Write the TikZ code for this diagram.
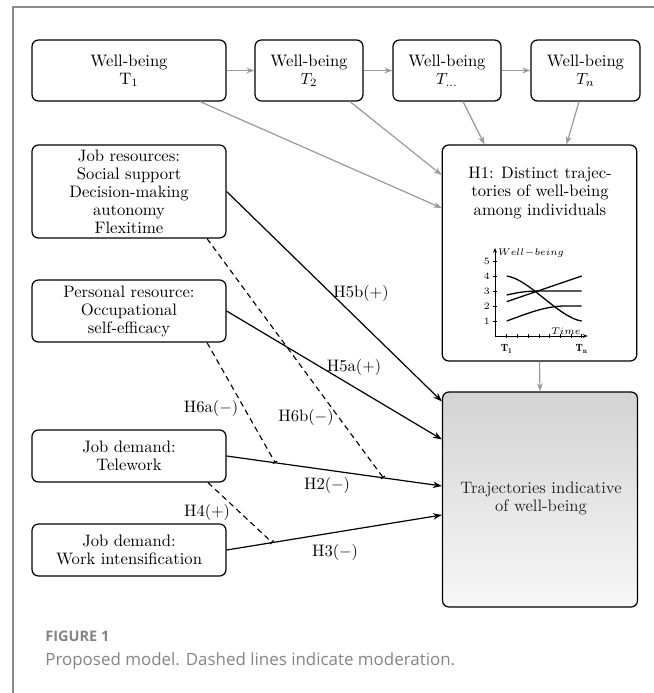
\documentclass[tikz,border=0pt]{standalone}
\usepackage{fontspec}
\newfontfamily\capfont{Open Sans}
\usetikzlibrary{arrows.meta,calc}
\definecolor{framegray}{HTML}{8C8C8C}
\definecolor{arrgray}{HTML}{9A9A9A}
\definecolor{capgray}{HTML}{858585}
\begin{document}
\begin{tikzpicture}[x=0.62pt,y=-0.62pt,
  box/.style={draw=black, line width=0.75pt, rounded corners=4pt, align=center, inner sep=0pt, font=\fontsize{10.3}{11.2}\selectfont},
  garr/.style={draw=arrgray, line width=0.75pt, -{Stealth[length=5pt,width=3.6pt]}},
  barr/.style={draw=black, line width=0.75pt, -{Stealth[length=5.5pt,width=4pt]}},
  modline/.style={draw=black, line width=0.7pt, dash pattern=on 3.5pt off 2.5pt, -{Bar[width=3pt]}},
  lbl/.style={font=\fontsize{10.3}{12}\selectfont, inner sep=1pt},
  chartlbl/.style={font=\fontsize{6.5}{7.5}\selectfont, inner sep=0.5pt}]
\useasboundingbox (0,0) rectangle (654,693);
% frame
\draw[framegray, line width=0.8pt] (13,693) -- (13,7) -- (654,7);
% top row
\node[box, minimum width=120.28pt, minimum height=37.82pt] (T1) at (129,70.5) {Well-being\\T$_1$};
\node[box, minimum width=66.96pt, minimum height=37.82pt] (T2) at (309,70.5) {Well-being\\$T_2$};
\node[box, minimum width=66.96pt, minimum height=37.82pt] (Td) at (447,70.5) {Well-being\\$T_{\ldots}$};
\node[box, minimum width=67.58pt, minimum height=37.82pt] (Tn) at (585.5,70.5) {Well-being\\$T_n$};
% left column
\node[box, minimum width=120.28pt, minimum height=57.66pt] (JR) at (129,191.5) {Job resources:\\Social support\\Decision-making\\autonomy\\Flexitime};
\node[box, minimum width=120.28pt, minimum height=38.44pt] (PR) at (129,311) {Personal resource:\\Occupational\\self-efficacy};
\node[box, minimum width=120.28pt, minimum height=32.24pt] (TW) at (129,456) {Job demand:\\Telework};
\node[box, minimum width=120.28pt, minimum height=32.24pt] (WI) at (129,550) {Job demand:\\Work intensification};
% right column
\node[box, minimum width=120.6pt, minimum height=133.92pt] (H1) at (539.5,253) {};
\node[font=\fontsize{10.3}{11.2}\selectfont, align=center, inner sep=0pt] (H1t) at (540,193) {H1: Distinct trajec-\\tories of well-being\\among individuals};
\node[box, minimum width=120.9pt, minimum height=133.3pt, top color=black!17, bottom color=black!3] (TR) at (540,499.5) {};
\node[font=\fontsize{10.3}{11.2}\selectfont, align=center, inner sep=0pt, text=black!85] (TRt) at (541,498.5) {Trajectories indicative\\of well-being};
% chart
\begin{scope}[shift={(314.15pt,-208.32pt)}, x=46.5pt, y=9.3pt]
  \draw[line width=0.5pt, -{Stealth[length=3pt,width=2.4pt]}] (-0.156,0) -- (1.08,0) coordinate (xend);
  \draw[line width=0.5pt, -{Stealth[length=3pt,width=2.4pt]}] (-0.156,0) -- (-0.156,5.87) coordinate (yend);
  \foreach \k in {0,...,7} \draw[line width=0.4pt] (\k/7,-0.12) -- (\k/7,0.15);
  \foreach \v in {1,...,5} {
    \draw[line width=0.4pt] (-0.185,\v) -- (-0.127,\v);
    \node[chartlbl, font=\fontsize{6}{7}\selectfont] (yl\v) at (-0.265,\v) {\v};
  }
  \node[chartlbl, anchor=west] (wbl) at (-0.13,5.53) {$Well\!-\!being$};
  \node[chartlbl, anchor=south east] (tml) at (1.0,0.05) {$Time$};
  \node[chartlbl] (t1l) at (0,-0.85) {$\mathbf{T_1}$};
  \node[chartlbl] (tnl) at (1,-0.85) {$\mathbf{T_n}$};
  \draw[line width=0.8pt] (0,4) .. controls (0.3,3.8) and (0.7,1.2) .. (1,1);
  \draw[line width=0.8pt] (0,2.29) -- (1,4);
  \draw[line width=0.8pt] (0,2.73) .. controls (0.18,2.95) and (0.3,3) .. (0.45,3) -- (1,3);
  \draw[line width=0.8pt] (0,1) .. controls (0.3,1.55) and (0.5,1.95) .. (0.75,2) -- (1,2);
\end{scope}
% gray arrows
\draw[garr] (T1) -- (T2);
\draw[garr] (T2) -- (Td);
\draw[garr] (Td) -- (Tn);
\draw[garr] ($(T1.south)+(71,0)$) -- ($(H1.west)+(0,-45)$);
\draw[garr] ($(T2.south)+(41,0)$) -- ($(H1.west)+(0,-78)$);
\draw[garr] ($(Td.south)+(16,0)$) -- ($(H1.north)+(-55,0)$);
\draw[garr] ($(Tn.south)+(-6.5,0)$) -- ($(H1.north)+(27,0)$);
\draw[garr] (H1.south) -- (TR.north);
% black arrows
\draw[barr] (JR.east) -- ($(TR.north west)+(0,10)$);
\draw[barr] (PR.east) -- ($(TR.north west)+(0,48)$);
\draw[barr] (TW.east) -- coordinate[pos=0.226] (mA) coordinate[pos=0.728] (mB) ($(TR.west)+(0,-13.5)$);
\draw[barr] (WI.east) -- coordinate[pos=0.212] (mC) ($(TR.west)+(0,15.5)$);
% moderation lines
\draw[modline] ($(JR.south)+(78,0)$) -- (mB);
\draw[modline] ($(PR.south)+(78,0)$) -- (mA);
\draw[modline] ($(TW.south)+(79,0)$) -- (mC);
% labels
\node[lbl] (l5b) at (361,293) {H5b$(+)$};
\node[lbl] (l5a) at (354,367) {H5a$(+)$};
\node[lbl] (l6a) at (211,408) {H6a$(-)$};
\node[lbl] (l6b) at (306,417) {H6b$(-)$};
\node[lbl] (l2) at (327,485) {H2$(-)$};
\node[lbl] (l4) at (207,512) {H4$(+)$};
\node[lbl] (l3) at (335,552) {H3$(-)$};
% caption
\node[anchor=base west, inner sep=0pt, text=capgray, font=\capfont\bfseries\fontsize{9}{10}\selectfont] (fig) at (45,641.5) {FIGURE 1};
\node[anchor=base west, inner sep=0pt, text=capgray, font=\capfont\fontsize{10.5}{12}\selectfont] (cap) at (45,665) {Proposed model. Dashed lines indicate moderation.};
\end{tikzpicture}
\end{document}
